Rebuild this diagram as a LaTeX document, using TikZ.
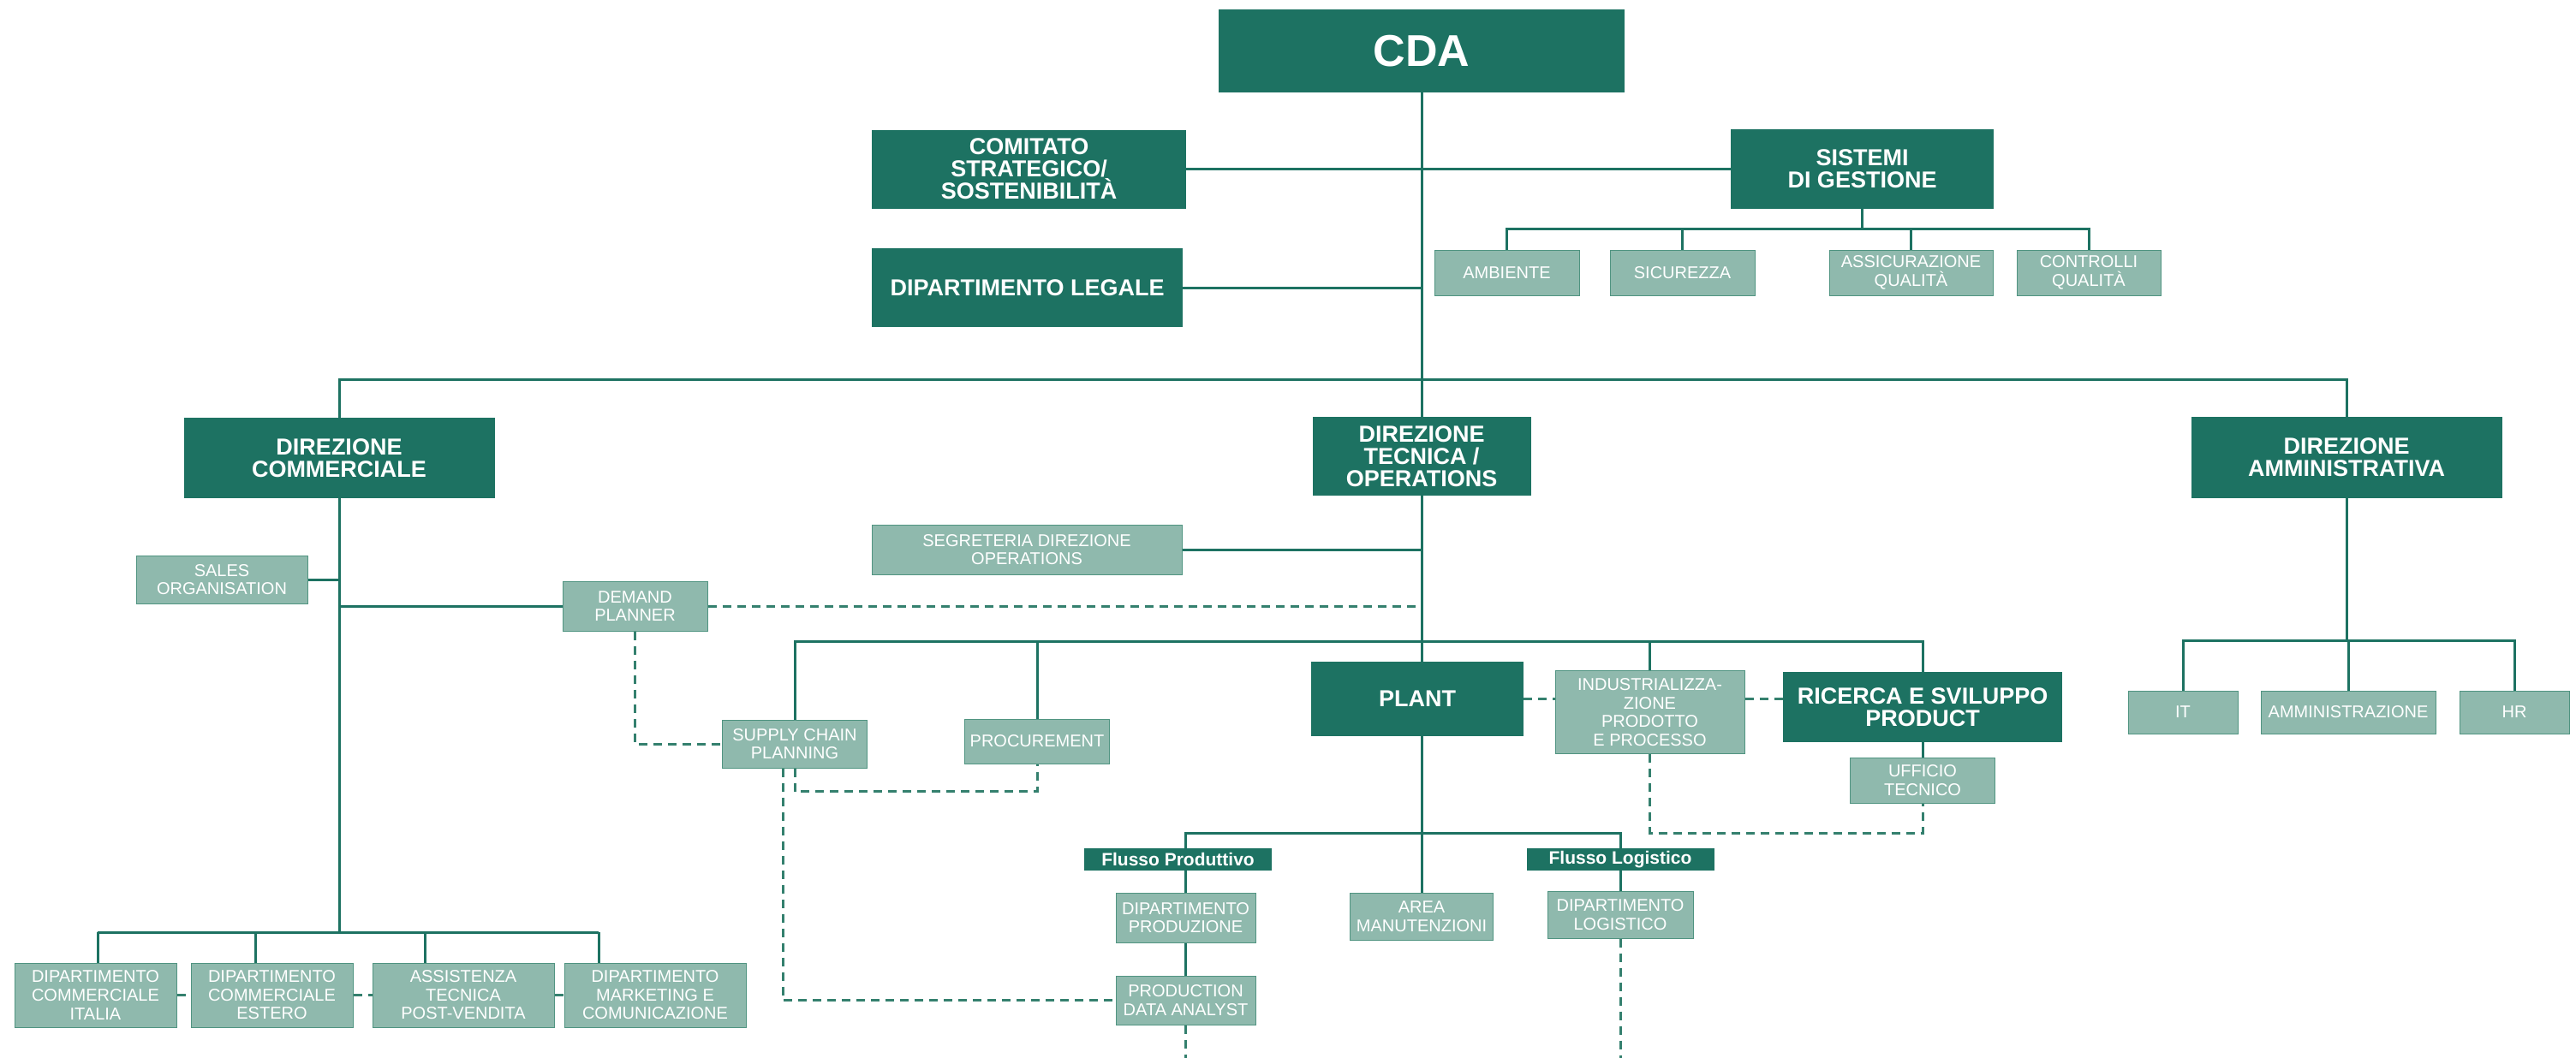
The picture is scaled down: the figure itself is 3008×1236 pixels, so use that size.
\documentclass[tikz,border=0pt]{standalone}
\usepackage{fontspec}
\setmainfont{Liberation Sans}
\definecolor{dkg}{RGB}{29,114,98}
\definecolor{ltg}{RGB}{143,185,173}
\definecolor{ltb}{RGB}{80,148,129}
\definecolor{dsh}{RGB}{52,128,110}
\tikzset{
  dk/.style={fill=dkg, draw=none, text=white, font=\bfseries\fontsize{13.5}{13}\selectfont, align=center, inner sep=0pt},
  lt/.style={fill=ltg, draw=ltb, line width=0.5pt, text=white, font=\fontsize{10}{10.8}\selectfont, align=center, inner sep=0pt},
  tag/.style={fill=dkg, draw=none, text=white, font=\bfseries\fontsize{10.5}{10.5}\selectfont, align=center, inner sep=0pt},
  sz/.style 2 args={minimum width=#1*0.5pt, minimum height=#2*0.5pt},
  conn/.style={draw=dkg, line width=1.5pt},
  dconn/.style={draw=dsh, line width=1.5pt, dash pattern=on 5pt off 3.5pt},
}
\begin{document}
\begin{tikzpicture}[x=0.5pt,y=-0.5pt]
\useasboundingbox (0,0) rectangle (3008,1236);
% bus coordinates
\coordinate (sgb) at (0,267);
\coordinate (mb) at (0,443);
\coordinate (ob) at (0,749);
\coordinate (ab) at (0,748);
\coordinate (pb) at (0,973);
\coordinate (lb) at (0,1089);
\coordinate (bot) at (0,1236);
\coordinate (s1) at (114,1089);
\coordinate (s2) at (298,1089);
\coordinate (s3) at (496,1089);
\coordinate (s4) at (699,1089);

% dark boxes
\node[dk, sz={474}{97}, font=\bfseries\fontsize{26}{26}\selectfont] (cda) at (1660,59.5) {CDA};
\node[dk, sz={367}{92}] (comitato) at (1201.5,197.5) {COMITATO\\STRATEGICO/\\SOSTENIBILITÀ};
\node[dk, sz={363}{92}] (legale) at (1199.5,336) {DIPARTIMENTO LEGALE};
\node[dk, sz={307}{93}] (sistemi) at (2174.5,197.5) {SISTEMI\\DI GESTIONE};
\node[dk, sz={363}{94}] (dcom) at (396,535) {DIREZIONE\\COMMERCIALE};
\node[dk, sz={255}{92}] (dtec) at (1660,533) {DIREZIONE\\TECNICA /\\OPERATIONS};
\node[dk, sz={363}{95}] (damm) at (2740,534.5) {DIREZIONE\\AMMINISTRATIVA};
\node[dk, sz={248}{87}] (plant) at (1655,816.5) {PLANT};
\node[dk, sz={326}{82}] (ricerca) at (2245,826) {RICERCA E SVILUPPO\\PRODUCT};
\node[tag, sz={219}{26}] (fprod) at (1375.5,1004) {Flusso Produttivo};
\node[tag, sz={219}{26}] (flog) at (1892,1004) {Flusso Logistico};

% light boxes
\node[lt, sz={169}{53}] (ambiente) at (1759.5,318.5) {AMBIENTE};
\node[lt, sz={169}{53}] (sicurezza) at (1964.5,318.5) {SICUREZZA};
\node[lt, sz={191}{53}] (assic) at (2231.5,318.5) {ASSICURAZIONE\\QUALITÀ};
\node[lt, sz={168}{53}] (controlli) at (2439,318.5) {CONTROLLI\\QUALITÀ};
\node[lt, sz={200}{56}] (sales) at (259,677) {SALES\\ORGANISATION};
\node[lt, sz={169}{58}] (demand) at (741.5,708) {DEMAND\\PLANNER};
\node[lt, sz={362}{58}] (segr) at (1199,642) {SEGRETERIA DIREZIONE\\OPERATIONS};
\node[lt, sz={169}{56}] (supply) at (928,869) {SUPPLY CHAIN\\PLANNING};
\node[lt, sz={169}{52}] (procur) at (1211,866) {PROCUREMENT};
\node[lt, sz={221}{97}] (industr) at (1926.5,832) {INDUSTRIALIZZA-\\ZIONE\\PRODOTTO\\E PROCESSO};
\node[lt, sz={169}{53}] (ufficio) at (2245,911.5) {UFFICIO\\TECNICO};
\node[lt, sz={163}{58}] (dprod) at (1384.5,1072) {DIPARTIMENTO\\PRODUZIONE};
\node[lt, sz={163}{57}] (pda) at (1384.5,1168.5) {PRODUCTION\\DATA ANALYST};
\node[lt, sz={167}{55}] (area) at (1660,1070.5) {AREA\\MANUTENZIONI};
\node[lt, sz={170}{55}] (dlog) at (1892,1068.5) {DIPARTIMENTO\\LOGISTICO};
\node[lt, sz={128}{50}] (it) at (2549,832) {IT};
\node[lt, sz={204}{50}] (amm) at (2742,832) {AMMINISTRAZIONE};
\node[lt, sz={128}{50}] (hr) at (2936,832) {HR};
\node[lt, sz={189}{75}] (italia) at (111.5,1162.5) {DIPARTIMENTO\\COMMERCIALE\\ITALIA};
\node[lt, sz={189}{75}] (estero) at (317.5,1162.5) {DIPARTIMENTO\\COMMERCIALE\\ESTERO};
\node[lt, sz={212}{75}] (assist) at (541,1162.5) {ASSISTENZA\\TECNICA\\POST-VENDITA};
\node[lt, sz={212}{75}] (market) at (765,1162.5) {DIPARTIMENTO\\MARKETING E\\COMUNICAZIONE};

% top connectors
\draw[conn] (cda.south) -- (dtec.north);
\draw[conn] (comitato.east) -- (sistemi.west);
\draw[conn] (legale.east) -- (legale.east -| cda.south);
\draw[conn] (sistemi.south) -- (sistemi.south |- sgb);
\draw[conn] (ambiente.north) |- (controlli.north |- sgb) -- (controlli.north);
\draw[conn] (sicurezza.north) -- (sicurezza.north |- sgb);
\draw[conn] (assic.north) -- (assic.north |- sgb);
\draw[conn] (dcom.north) |- (damm.north |- mb) -- (damm.north);

% commerciale
\draw[conn] (dcom.south) -- (dcom.south |- lb);
\draw[conn] (sales.east) -- (sales.east -| dcom.south);
\draw[conn] (demand.west) -- (demand.west -| dcom.south);
\draw[dconn] (demand.east) -- (demand.east -| dtec.south);
\draw[dconn] (demand.south) |- (supply.west);
\draw[conn] (s1) -- (s4);
\draw[conn] (s1) -- (s1 |- italia.north);
\draw[conn] (s2) -- (s2 |- estero.north);
\draw[conn] (s3) -- (s3 |- assist.north);
\draw[conn] (s4) -- (s4 |- market.north);
\draw[dconn] (italia.east) -- (estero.west);
\draw[dconn] (estero.east) -- (assist.west);
\draw[dconn] (assist.east) -- (market.west);

% tecnica / operations
\draw[conn] (dtec.south) -- (dtec.south |- plant.north);
\draw[conn] (segr.east) -- (segr.east -| dtec.south);
\draw[conn] (supply.north) |- (ricerca.north |- ob) -- (ricerca.north);
\draw[conn] (procur.north) -- (procur.north |- ob);
\draw[conn] (industr.north) -- (industr.north |- ob);
\draw[dconn] (plant.east) -- (plant.east -| industr.west);
\draw[dconn] (plant.east -| industr.east) -- (plant.east -| ricerca.west);
\draw[conn] (ricerca.south) -- (ufficio.north);
\draw[dconn] (industr.south) |- (ufficio.south |- pb) -- (ufficio.south);
\draw[dconn] (supply.south) -- ++(0,27) -| (procur.south);
\draw[dconn] ([xshift=-7pt]supply.south) |- (pda.west);
\draw[conn] (plant.south -| area.north) -- (area.north);
\draw[conn] (dprod.north |- fprod.north) |- (dlog.north |- pb) -- (dlog.north |- flog.north);
\draw[conn] (dprod.north |- fprod.south) -- (dprod.north);
\draw[conn] (dlog.north |- flog.south) -- (dlog.north);
\draw[conn] (dprod.south) -- (pda.north);
\draw[dconn] (pda.south) -- (pda.south |- bot);
\draw[dconn] (dlog.south) -- (dlog.south |- bot);

% amministrativa
\draw[conn] (damm.south) -- (damm.south |- ab);
\draw[conn] (it.north) |- (hr.north |- ab) -- (hr.north);
\draw[conn] (amm.north) -- (amm.north |- ab);
\end{tikzpicture}
\end{document}
